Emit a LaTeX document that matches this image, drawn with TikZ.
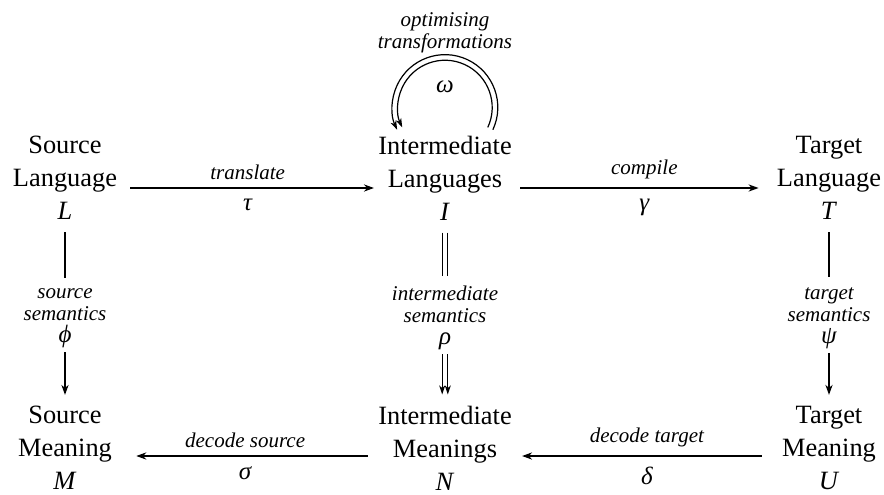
\documentclass[tikz,border=0pt]{standalone}
\usepackage{fontspec}
\setmainfont{Liberation Serif}
\usepackage{tikz}
\usetikzlibrary{arrows.meta}

% greek map names, a little larger than the labels
\newcommand{\gk}[1]{{\fontsize{12.5}{11}\selectfont #1}}

\begin{document}
\begin{tikzpicture}[x=0.5pt, y=0.5pt,
    obj/.style={align=center, inner sep=0pt, font=\fontsize{13.2}{16.5}\selectfont},
    lbl/.style={align=center, inner sep=0pt, font=\fontsize{10.5}{11}\selectfont\itshape},
    bar/.style={line width=0.6pt},
    map/.style={line width=0.6pt, -{Stealth[length=5pt, width=3.6pt, inset=1.6pt]}},
    twin/.style={line width=0.6pt, -{Stealth[length=4.5pt, width=3pt, inset=1.3pt]}},
]
    \useasboundingbox (0,0) rectangle (884,494);

    % languages
    \node[obj] (L) at (65,316) {Source\\Language\\\textit{L}};
    \node[obj] (I) at (445,316) {Intermediate\\Languages\\\textit{I}};
    \node[obj] (T) at (829,316) {Target\\Language\\\textit{T}};

    % meanings
    \node[obj] (M) at (65,46) {Source\\Meaning\\\textit{M}};
    \node[obj] (N) at (445,46) {Intermediate\\Meanings\\\textit{N}};
    \node[obj] (U) at (829,46) {Target\\Meaning\\\textit{U}};

    % semantics labels
    \node[lbl] (phi) at (65,176) {source\\semantics\\\gk{ϕ}};
    \node[lbl] (rho) at (445,176) {intermediate\\semantics\\\gk{ρ}};
    \node[lbl] (psi) at (829,176) {target\\semantics\\\gk{ψ}};

    \draw[map, shorten <=6.5pt, shorten >=2pt] ([yshift=-5pt]L.east) --
        node[lbl, above=4pt] {translate} node[lbl, below=5pt] {\gk{τ}} ([yshift=-5pt]I.west);
    \draw[map, shorten <=4pt, shorten >=9pt] ([yshift=-5pt]I.east) --
        node[lbl, above=4pt] {compile} node[lbl, below=5pt] {\gk{γ}} ([yshift=-5pt]T.west);
    \draw[map, shorten <=5pt, shorten >=12pt] ([yshift=-4pt]N.west) --
        node[lbl, above=4pt] {decode source} node[lbl, below=5pt] {\gk{σ}} ([yshift=-4pt]M.east);
    \draw[map, shorten <=10pt, shorten >=5pt] ([yshift=-4pt]U.west) --
        node[lbl, above=4pt] {decode target} node[lbl, below=5pt] {\gk{δ}} ([yshift=-4pt]N.east);

    \draw[bar, shorten <=6pt, shorten >=5pt] (L.south) -- (phi.north);
    \draw[map, shorten <=2pt, shorten >=5.5pt] (phi.south) -- (M.north);
    \draw[bar, shorten <=6pt, shorten >=5pt] (T.south) -- (psi.north);
    \draw[map, shorten <=2pt, shorten >=5.5pt] (psi.south) -- (U.north);

    % double lines for the intermediate column
    \foreach \s in {-1.4pt, 1.4pt} {
        \draw[bar, shorten <=6pt, shorten >=5pt] ([xshift=\s]I.south) -- ([xshift=\s]rho.north);
        \draw[twin, shorten <=2pt, shorten >=5.5pt] ([xshift=\s]rho.south) -- ([xshift=\s]N.north);
    }

    % loop on I
    \coordinate (hub) at ([yshift=14pt]I.north);
    \foreach \r in {23.6pt, 26.4pt}
        \draw[twin] (hub) ++(-25:\r) arc[start angle=-25, end angle=205, radius=\r];
    \node[lbl] (omega) at ([yshift=10.5pt]hub) {\gk{ω}};
    \node[lbl] (opt) at (445,461) {optimising\\transformations};
\end{tikzpicture}
\end{document}
